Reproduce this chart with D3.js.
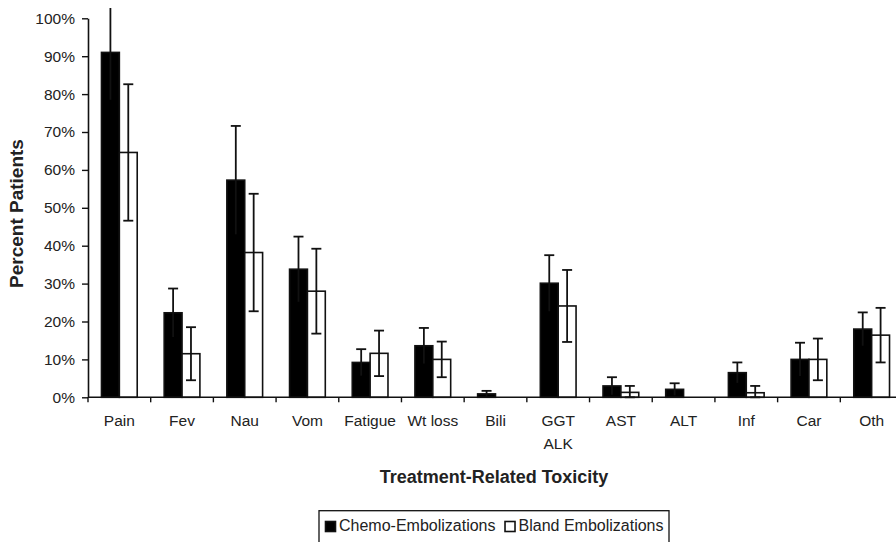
<!DOCTYPE html>
<html>
<head>
<meta charset="utf-8">
<script src="https://cdn.jsdelivr.net/npm/d3@7"></script>
<style>
  html, body { margin: 0; padding: 0; background: #fff; }
  svg { display: block; font-family: "Liberation Sans", Arial, sans-serif; }
</style>
</head>
<body>
<svg id="chart" width="896" height="542"></svg>
<script>
// ---- data ----
const categories = ["Pain", "Fev", "Nau", "Vom", "Fatigue", "Wt loss", "Bili", "GGT\nALK", "AST", "ALT", "Inf", "Car", "Oth"];
const seriesNames = ["Chemo-Embolizations", "Bland Embolizations"];
const chemoValues = [91.0, 22.3, 57.3, 33.8, 9.2, 13.6, 0.9, 30.1, 3.0, 2.1, 6.5, 10.0, 18.0];
const chemoErrors = [12.5, 6.4, 14.3, 8.6, 3.5, 4.7, 0.8, 7.4, 2.3, 1.6, 2.7, 4.4, 4.4];
const blandValues = [64.6, 11.5, 38.2, 28.0, 11.6, 10.0, 0, 24.1, 1.3, 0, 1.2, 10.0, 16.4];
const blandErrors = [18.0, 7.0, 15.5, 11.2, 6.0, 4.7, 0, 9.5, 1.7, 0, 1.8, 5.5, 7.2];
const yTicks = [0, 10, 20, 30, 40, 50, 60, 70, 80, 90, 100];

const svg = d3.select("#chart");
const mLeft = 88, mRight = 903, mTop = 18.3, mBottom = 397.3;

const x0 = d3.scaleBand().domain(categories).range([mLeft, mRight]).paddingInner(0.43).paddingOuter(0.215);
const x1 = d3.scaleBand().domain(seriesNames).range([0, x0.bandwidth()]);
const y = d3.scaleLinear().domain([0, 100]).range([mBottom, mTop]);

const rows = categories.map((c, i) => ({
  cat: c,
  vals: [
    { s: seriesNames[0], v: chemoValues[i], e: chemoErrors[i], fill: "#000" },
    { s: seriesNames[1], v: blandValues[i], e: blandErrors[i], fill: "#fff" }
  ]
}));

// clip for error bars exceeding the top
svg.append("defs").append("clipPath").attr("id", "clip")
  .append("rect").attr("x", 0).attr("y", 8).attr("width", 896).attr("height", 534);

const g = svg.append("g").attr("clip-path", "url(#clip)");
const groups = g.selectAll("g.cat").data(rows).join("g")
  .attr("class", "cat")
  .attr("transform", d => `translate(${x0(d.cat)},0)`);

groups.selectAll("rect").data(d => d.vals).join("rect")
  .attr("x", d => x1(d.s))
  .attr("y", d => y(d.v))
  .attr("width", x1.bandwidth())
  .attr("height", d => y(0) - y(d.v))
  .attr("fill", d => d.fill)
  .attr("stroke", "#111")
  .attr("stroke-width", 1.6);

const capW = 10;
const eb = groups.selectAll("g.err").data(d => d.vals.filter(v => v.e > 0)).join("g").attr("class", "err")
  .attr("stroke", "#111").attr("stroke-width", 1.8);
eb.append("line")
  .attr("x1", d => x1(d.s) + x1.bandwidth() / 2).attr("x2", d => x1(d.s) + x1.bandwidth() / 2)
  .attr("y1", d => y(d.v + d.e)).attr("y2", d => y(Math.max(0, d.v - d.e)));
eb.append("line")
  .attr("x1", d => x1(d.s) + x1.bandwidth() / 2 - capW / 2).attr("x2", d => x1(d.s) + x1.bandwidth() / 2 + capW / 2)
  .attr("y1", d => y(d.v + d.e)).attr("y2", d => y(d.v + d.e));
eb.filter(d => d.fill === "#fff").append("line")
  .attr("x1", d => x1(d.s) + x1.bandwidth() / 2 - capW / 2).attr("x2", d => x1(d.s) + x1.bandwidth() / 2 + capW / 2)
  .attr("y1", d => y(Math.max(0, d.v - d.e))).attr("y2", d => y(Math.max(0, d.v - d.e)));

// y axis
const yAxis = svg.append("g").attr("transform", `translate(${mLeft},0)`)
  .call(d3.axisLeft(y).tickValues(yTicks).tickFormat(d => d + "%").tickSize(6).tickSizeOuter(0));
yAxis.select(".domain").attr("stroke", "#111").attr("stroke-width", 1.6);
yAxis.selectAll(".tick line").attr("stroke", "#111").attr("stroke-width", 1.4);
yAxis.selectAll(".tick text").attr("font-size", 15.5).attr("fill", "#222").attr("x", -13);

// x axis
const xAxis = svg.append("g").attr("transform", `translate(0,${mBottom})`);
xAxis.append("line").attr("x1", mLeft).attr("x2", mRight).attr("stroke", "#111").attr("stroke-width", 1.6);
const stepTicks = categories.map(c => x0(c) - x0.step() * x0.paddingInner() / 2);
xAxis.selectAll("line.tk").data(stepTicks.concat([mRight])).join("line").attr("class", "tk")
  .attr("x1", d => d).attr("x2", d => d).attr("y1", 0).attr("y2", 5)
  .attr("stroke", "#111").attr("stroke-width", 1.4);
const xl = xAxis.selectAll("text.xl").data(categories).join("text").attr("class", "xl")
  .attr("x", d => x0(d) + x0.bandwidth() / 2)
  .attr("y", 29)
  .attr("text-anchor", "middle")
  .attr("font-size", 15.5).attr("fill", "#222");
xl.each(function(d) {
  const parts = d.split("\n");
  const t = d3.select(this);
  parts.forEach((p, i) => t.append("tspan").attr("x", x0(d) + x0.bandwidth() / 2).attr("dy", i === 0 ? 0 : 22.5).text(p));
});

// axis titles
svg.append("text")
  .attr("transform", `translate(23,213.5) rotate(-90)`)
  .attr("text-anchor", "middle")
  .attr("font-size", 19).attr("font-weight", "bold").attr("fill", "#222")
  .text("Percent Patients");
svg.append("text")
  .attr("x", 494).attr("y", 483)
  .attr("text-anchor", "middle")
  .attr("font-size", 18).attr("font-weight", "bold").attr("fill", "#222")
  .text("Treatment-Related Toxicity");

// legend
const lg = svg.append("g");
lg.append("rect").attr("x", 319).attr("y", 510.7).attr("width", 350).attr("height", 40)
  .attr("fill", "#fff").attr("stroke", "#111").attr("stroke-width", 1.3);
let lx = 325;
seriesNames.forEach((s, i) => {
  lg.append("rect").attr("x", lx + 0.5).attr("y", 521.5).attr("width", 10).attr("height", 10)
    .attr("fill", i === 0 ? "#000" : "#fff").attr("stroke", "#111").attr("stroke-width", 1.6);
  const t = lg.append("text").attr("x", lx + 14).attr("y", 531).attr("font-size", 16).attr("fill", "#222").text(s);
  lx += 14 + t.node().getComputedTextLength() + 9;
});
</script>
</body>
</html>
